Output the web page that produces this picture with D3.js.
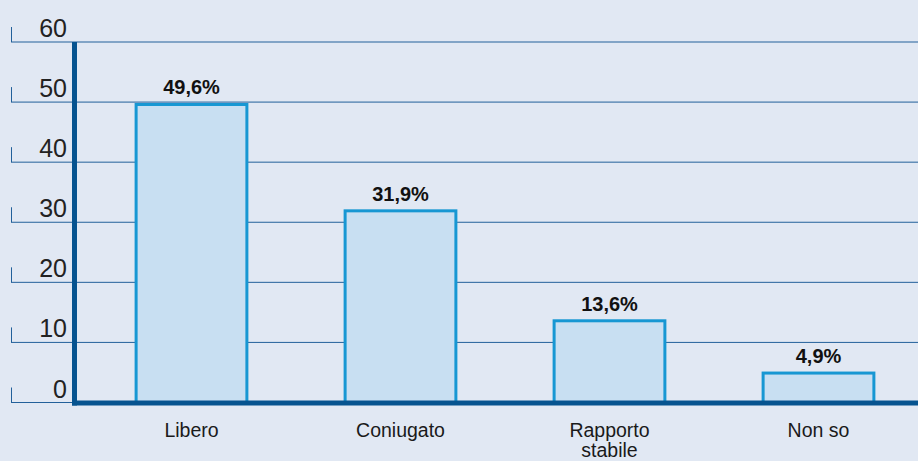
<!DOCTYPE html>
<html>
<head>
<meta charset="utf-8">
<script src="https://cdn.jsdelivr.net/npm/d3@7"></script>
<style>
  body { margin: 0; background: #e1e8f3; }
  svg { display: block; font-family: "Liberation Sans", Arial, sans-serif; }
</style>
</head>
<body>
<script>
// chart data
var categories = ["Libero", "Coniugato", "Rapporto stabile", "Non so"];
var catLines = [["Libero"], ["Coniugato"], ["Rapporto", "stabile"], ["Non so"]];
var values = [49.6, 31.9, 13.6, 4.9];
var valueLabels = ["49,6%", "31,9%", "13,6%", "4,9%"];
var yTicks = [0, 10, 20, 30, 40, 50, 60];

var width = 918, height = 461;

var svg = d3.select("body").append("svg")
  .attr("width", width)
  .attr("height", height);

svg.append("rect").attr("width", width).attr("height", height).attr("fill", "#e1e8f3");

// scales
var y = d3.scaleLinear().domain([0, 60]).range([402.5, 42]);
var x = d3.scaleBand().domain(categories).range([87, 923]).padding(0);
var barW = x.bandwidth() * 0.53;

// gridlines + small tick marks on the left
var grid = svg.append("g");
grid.selectAll("line.grid")
  .data(yTicks)
  .enter().append("line")
  .attr("class", "grid")
  .attr("x1", 11).attr("x2", width)
  .attr("y1", function(d){ return y(d); })
  .attr("y2", function(d){ return y(d); })
  .attr("stroke", "#22609a").attr("stroke-width", 1);

grid.selectAll("line.mark")
  .data(yTicks)
  .enter().append("line")
  .attr("class", "mark")
  .attr("x1", 11.5).attr("x2", 11.5)
  .attr("y1", function(d){ return y(d) - 15; })
  .attr("y2", function(d){ return y(d); })
  .attr("stroke", "#22609a").attr("stroke-width", 1);

// tick labels
svg.selectAll("text.ytick")
  .data(yTicks)
  .enter().append("text")
  .attr("class", "ytick")
  .attr("x", 67)
  .attr("y", function(d){ return y(d) - 5; })
  .attr("text-anchor", "end")
  .attr("font-size", 25)
  .attr("fill", "#222")
  .text(function(d){ return d; });

// bars
svg.selectAll("rect.bar")
  .data(values)
  .enter().append("rect")
  .attr("class", "bar")
  .attr("x", function(d, i){ return x(categories[i]) + (x.bandwidth() - barW) / 2; })
  .attr("y", function(d){ return y(d); })
  .attr("width", barW)
  .attr("height", function(d){ return y(0) - y(d); })
  .attr("fill", "#c8dff2")
  .attr("stroke", "#1797d3")
  .attr("stroke-width", 3);

// value labels
svg.selectAll("text.val")
  .data(values)
  .enter().append("text")
  .attr("class", "val")
  .attr("x", function(d, i){ return x(categories[i]) + x.bandwidth() / 2; })
  .attr("y", function(d){ return y(d) - 10; })
  .attr("text-anchor", "middle")
  .attr("font-size", 20)
  .attr("font-weight", "bold")
  .attr("fill", "#111")
  .text(function(d, i){ return valueLabels[i]; });

// axes (thick)
svg.append("line")
  .attr("x1", 74.5).attr("x2", 74.5)
  .attr("y1", y(60)).attr("y2", y(0) + 3)
  .attr("stroke", "#06538f").attr("stroke-width", 5);
svg.append("line")
  .attr("x1", 72).attr("x2", width)
  .attr("y1", y(0) + 0.5).attr("y2", y(0) + 0.5)
  .attr("stroke", "#06538f").attr("stroke-width", 5);

// category labels
var cat = svg.selectAll("text.cat")
  .data(catLines)
  .enter().append("text")
  .attr("class", "cat")
  .attr("x", function(d, i){ return x(categories[i]) + x.bandwidth() / 2; })
  .attr("y", 437)
  .attr("text-anchor", "middle")
  .attr("font-size", 19.5)
  .attr("fill", "#1a1a1a");
cat.selectAll("tspan")
  .data(function(d){ return d; })
  .enter().append("tspan")
  .attr("x", function(){ return d3.select(this.parentNode).attr("x"); })
  .attr("dy", function(d, i){ return i ? 20 : 0; })
  .text(function(d){ return d; });
</script>
</body>
</html>
